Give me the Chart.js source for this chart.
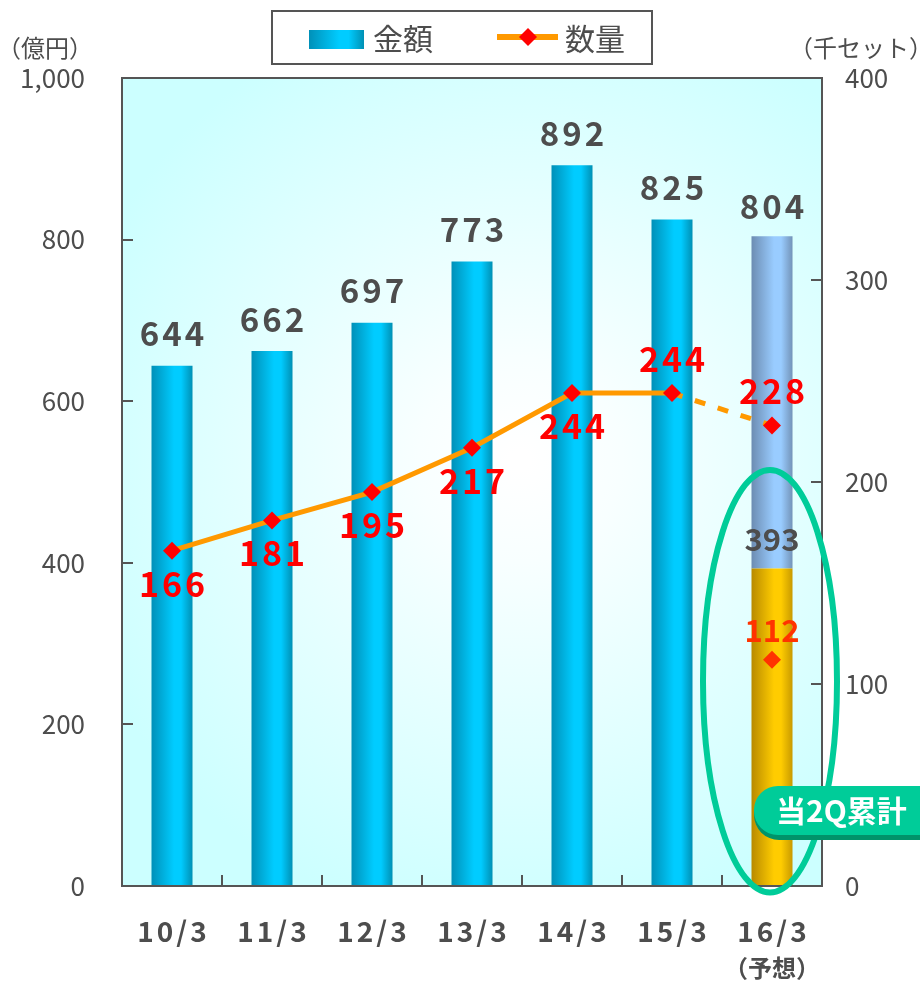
<!DOCTYPE html>
<html>
<head>
<meta charset="utf-8">
<script src="https://cdn.jsdelivr.net/npm/chart.js@4.4.1/dist/chart.umd.min.js"></script>
<style>
  html, body { margin: 0; padding: 0; background: #fff; }
  #wrap { width: 920px; height: 982px; }
</style>
</head>
<body>
<div id="wrap"><canvas id="salesChart" width="920" height="982"></canvas></div>
<script>
// fiscal years (March year-end)
const years = ['10/3', '11/3', '12/3', '13/3', '14/3', '15/3', '16/3'];
const yearNotes = ['', '', '', '', '', '', '（予想）'];

// 金額 (億円)
const amount = [644, 662, 697, 773, 892, 825, null];
const forecastAmount = [null, null, null, null, null, null, 804];
const halfAmount = [null, null, null, null, null, null, 393];

// 数量 (千セット)
const quantity = [166, 181, 195, 217, 244, 244, 228];
const halfQuantity = [null, null, null, null, null, null, 112];

const leftTicks = [0, 200, 400, 600, 800, 1000];
const rightTicks = [0, 100, 200, 300, 400];

const FONT = '"Noto Sans CJK JP", "Noto Sans", sans-serif';
const GRAY = '#4d4d4d';
const BAR_PCT = 0.41;

// horizontal "cylinder" shading for each bar
function barFill(stops) {
  return ctx => {
    const chart = ctx.chart;
    const xs = chart.scales.x;
    if (!xs || ctx.type !== 'data' || !(xs.width > 0)) return stops[1];
    const cx = xs.getPixelForValue(ctx.dataIndex);
    const half = xs.width / years.length * BAR_PCT / 2;
    if (!isFinite(cx) || !isFinite(half)) return stops[1];
    const g = chart.ctx.createLinearGradient(cx - half, 0, cx + half, 0);
    g.addColorStop(0, stops[0]);
    g.addColorStop(0.55, stops[1]);
    g.addColorStop(0.72, stops[1]);
    g.addColorStop(1, stops[2]);
    return g;
  };
}
const blueStops = ['#0090b8', '#00ccff', '#0090b4'];
const goldStops = ['#b88a00', '#ffcc00', '#c89a00'];
const paleStops = ['#6c8cb2', '#99ccff', '#7393b8'];

function spacedText(c, text, x, y, spacing) {
  c.letterSpacing = spacing + 'px';
  c.fillText(text, x + spacing / 2, y);
  c.letterSpacing = '0px';
}

const chartDecor = {
  id: 'chartDecor',
  beforeDraw(chart) {
    const c = chart.ctx;
    const a = chart.chartArea;
    c.save();
    const g = c.createRadialGradient(520, 460, 10, 520, 460, 470);
    g.addColorStop(0, '#ffffff');
    g.addColorStop(0.2, '#f8ffff');
    g.addColorStop(1, '#ccffff');
    c.fillStyle = g;
    c.fillRect(a.left, a.top, a.right - a.left, a.bottom - a.top);
    c.restore();
  },
  afterDatasetsDraw(chart) {
    const c = chart.ctx;
    const a = chart.chartArea;
    const xs = chart.scales.x, ys = chart.scales.y, ys1 = chart.scales.y1;
    c.save();
    // frame and inward tick marks
    c.strokeStyle = '#555';
    c.lineWidth = 2;
    c.strokeRect(a.left, a.top, a.right - a.left, a.bottom - a.top);
    c.beginPath();
    leftTicks.forEach(v => {
      const y = Math.round(ys.getPixelForValue(v));
      c.moveTo(a.left, y); c.lineTo(a.left + 11, y);
    });
    rightTicks.forEach(v => {
      const y = Math.round(ys1.getPixelForValue(v));
      c.moveTo(a.right, y); c.lineTo(a.right - 11, y);
    });
    for (let i = 1; i < years.length; i++) {
      const x = Math.round((xs.getPixelForValue(i - 1) + xs.getPixelForValue(i)) / 2);
      c.moveTo(x, a.bottom); c.lineTo(x, a.bottom - 11);
    }
    c.stroke();

    // amount labels
    c.textAlign = 'center';
    c.textBaseline = 'middle';
    c.fillStyle = GRAY;
    c.font = 'bold 33px ' + FONT;
    amount.forEach((v, i) => {
      if (v == null) return;
      spacedText(c, String(v), xs.getPixelForValue(i), ys.getPixelForValue(v) - 32, 3);
    });
    forecastAmount.forEach((v, i) => {
      if (v == null) return;
      spacedText(c, String(v), xs.getPixelForValue(i), ys.getPixelForValue(v) - 30, 3);
    });
    c.font = 'bold 31px ' + FONT;
    halfAmount.forEach((v, i) => {
      if (v == null) return;
      c.fillText(String(v), xs.getPixelForValue(i), ys.getPixelForValue(v) - 29);
    });

    // quantity labels
    c.fillStyle = '#ff0000';
    c.font = 'bold 34px ' + FONT;
    quantity.forEach((v, i) => {
      const off = i < 5 ? 33 : -34;
      spacedText(c, String(v), xs.getPixelForValue(i), ys1.getPixelForValue(v) + off, 3);
    });
    c.fillStyle = '#ff3300';
    c.font = 'bold 31px ' + FONT;
    halfQuantity.forEach((v, i) => {
      if (v == null) return;
      c.fillText(String(v), xs.getPixelForValue(i), ys1.getPixelForValue(v) - 30);
    });

    // category labels
    c.fillStyle = GRAY;
    c.font = 'bold 28px ' + FONT;
    years.forEach((t, i) => spacedText(c, t, xs.getPixelForValue(i), 931, 3));
    c.font = 'bold 24px ' + FONT;
    yearNotes.forEach((t, i) => { if (t) c.fillText(t, xs.getPixelForValue(i), 968); });
    c.restore();
  },
  afterDraw(chart) {
    const c = chart.ctx;
    const xs = chart.scales.x, ys = chart.scales.y;
    c.save();
    // axis units
    c.fillStyle = GRAY;
    c.font = '24px ' + FONT;
    c.textAlign = 'center';
    c.textBaseline = 'middle';
    c.fillText('（億円）', 45, 48);
    c.fillText('（千セット）', 861, 48);

    // legend
    c.fillStyle = '#fff';
    c.fillRect(272, 11, 380, 53);
    c.strokeStyle = '#555';
    c.lineWidth = 2;
    c.strokeRect(272, 11, 380, 53);
    const lg = c.createLinearGradient(309, 0, 364, 0);
    lg.addColorStop(0, blueStops[0]);
    lg.addColorStop(0.55, blueStops[1]);
    lg.addColorStop(0.72, blueStops[1]);
    lg.addColorStop(1, blueStops[2]);
    c.fillStyle = lg;
    c.fillRect(309, 30, 55, 19);
    c.fillStyle = GRAY;
    c.font = '30px ' + FONT;
    c.textAlign = 'left';
    c.fillText('金額', 373, 39);
    c.fillText('数量', 565, 39);
    c.strokeStyle = '#ff9900';
    c.lineWidth = 6;
    c.beginPath(); c.moveTo(497, 37); c.lineTo(558, 37); c.stroke();
    c.fillStyle = '#ff0000';
    c.beginPath();
    c.moveTo(528, 28); c.lineTo(537, 37); c.lineTo(528, 46); c.lineTo(519, 37);
    c.closePath(); c.fill();

    // first-half highlight around the forecast bar
    const cx = xs.getPixelForValue(6) - 2;
    const top = ys.getPixelForValue(515), bottom = ys.getPixelForValue(-8);
    c.strokeStyle = '#00cc99';
    c.lineWidth = 6;
    c.beginPath();
    c.ellipse(cx, (top + bottom) / 2, 67, (bottom - top) / 2, 0, 0, Math.PI * 2);
    c.stroke();

    // 当2Q累計 tag
    c.fillStyle = '#00936a';
    c.beginPath(); c.roundRect(754, 790, 200, 50, 25); c.fill();
    c.fillStyle = '#00cc99';
    c.beginPath(); c.roundRect(754, 786, 200, 49, 24); c.fill();
    c.fillStyle = '#ffffff';
    c.font = 'bold 30px ' + FONT;
    c.textAlign = 'left';
    c.fillText('当2Q累計', 776, 811);
    c.restore();
  }
};

const ctx = document.getElementById('salesChart').getContext('2d');
new Chart(ctx, {
  data: {
    labels: years,
    datasets: [
      {
        type: 'line', label: '数量', yAxisID: 'y1', order: 0,
        data: quantity,
        borderColor: '#ff9900', borderWidth: 5,
        pointStyle: 'rectRot', pointRadius: 9,
        pointBackgroundColor: '#ff0000', pointBorderWidth: 0,
        segment: { borderDash: s => s.p0DataIndex === 5 ? [11, 13] : undefined }
      },
      {
        type: 'line', label: '数量 当2Q', yAxisID: 'y1', order: 0,
        data: halfQuantity, showLine: false,
        pointStyle: 'rectRot', pointRadius: 9,
        pointBackgroundColor: '#ff3300', pointBorderWidth: 0
      },
      {
        type: 'bar', label: '金額', yAxisID: 'y', order: 1,
        data: amount, backgroundColor: barFill(blueStops),
        barPercentage: BAR_PCT, categoryPercentage: 1
      },
      {
        type: 'bar', label: '金額 当2Q', yAxisID: 'y', order: 1,
        data: halfAmount, backgroundColor: barFill(goldStops),
        barPercentage: BAR_PCT, categoryPercentage: 1
      },
      {
        type: 'bar', label: '金額 予想', yAxisID: 'y', order: 1,
        data: forecastAmount.map((v, i) => v == null ? null : [halfAmount[i], v]),
        backgroundColor: barFill(paleStops),
        barPercentage: BAR_PCT, categoryPercentage: 1
      }
    ]
  },
  options: {
    responsive: false,
    animation: false,
    layout: { padding: { top: 78, left: 0, right: 0, bottom: 0 } },
    plugins: { legend: { display: false }, tooltip: { enabled: false } },
    scales: {
      x: {
        stacked: true,
        grid: { display: false, drawTicks: false },
        border: { display: false },
        ticks: { display: false },
        afterFit: s => { s.height = 96; }
      },
      y: {
        position: 'left', min: 0, max: 1000,
        grid: { display: false, drawTicks: false },
        border: { display: false },
        ticks: { stepSize: 200, padding: 37, color: GRAY, font: { family: FONT, size: 26 } },
        afterFit: s => { s.width = 122; }
      },
      y1: {
        position: 'right', min: 0, max: 400,
        grid: { display: false, drawTicks: false },
        border: { display: false },
        ticks: { stepSize: 100, padding: 23, color: GRAY, font: { family: FONT, size: 26 } },
        afterFit: s => { s.width = 98; }
      }
    }
  },
  plugins: [chartDecor]
});
</script>
</body>
</html>
